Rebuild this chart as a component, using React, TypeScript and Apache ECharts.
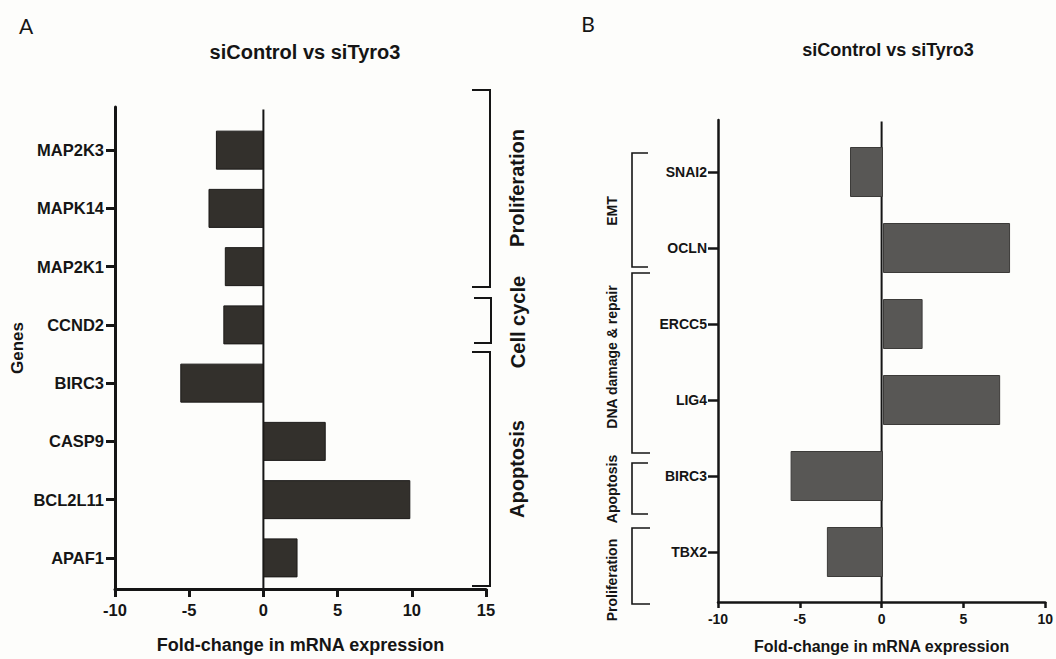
import React, { useEffect, useRef } from "react";
import * as echarts from "echarts";

// ---- Data ----
const leftGenes = ["MAP2K3", "MAPK14", "MAP2K1", "CCND2", "BIRC3", "CASP9", "BCL2L11", "APAF1"];
const leftValues = [-3.2, -3.7, -2.6, -2.7, -5.6, 4.2, 9.9, 2.3];
const leftXTicks = { min: -10, max: 15, interval: 5 };

const rightGenes = ["SNAI2", "OCLN", "ERCC5", "LIG4", "BIRC3", "TBX2"];
const rightValues = [-2.0, 7.7, 2.4, 7.1, -5.6, -3.4];
const rightXTicks = { min: -10, max: 10, interval: 5 };

const chartTitle = "siControl vs siTyro3";
const xAxisName = "Fold-change in mRNA expression";
const yAxisName = "Genes";

const leftGroups = ["Proliferation", "Cell cycle", "Apoptosis"];
const rightGroups = ["EMT", "DNA damage & repair", "Apoptosis", "Proliferation"];

const FONT = "'Liberation Sans', Arial, Helvetica, sans-serif";
const INK = "#151515";

export default function App() {
  const ref = useRef<HTMLDivElement>(null);

  useEffect(() => {
    if (!ref.current) return;
    const chart = echarts.init(ref.current, undefined, { renderer: "svg" });

    const bold = (size: number) => ({
      fontFamily: FONT,
      fontWeight: "bold" as const,
      fontSize: size,
      color: INK,
    });

    const bracket = (pts: number[][], w = 2) => ({
      type: "polyline",
      shape: { points: pts },
      style: { stroke: INK, lineWidth: w, fill: "none" },
      silent: true,
    });

    const vText = (text: string, x: number, y: number, size: number) => ({
      type: "text",
      x,
      y,
      rotation: Math.PI / 2,
      style: {
        text,
        font: `bold ${size}px ${FONT}`,
        fill: INK,
        align: "center",
        verticalAlign: "middle",
      },
      silent: true,
    });

    const option: any = {
      animation: false,
      backgroundColor: "#fdfdfb",
      title: [
        {
          text: chartTitle,
          left: 300,
          top: 37,
          textAlign: "center",
          textStyle: bold(20),
        },
        {
          text: chartTitle,
          left: 883,
          top: 36,
          textAlign: "center",
          textStyle: bold(18),
        },
      ],
      grid: [
        { left: 115, width: 371, top: 121, height: 466, containLabel: false },
        { left: 115, width: 371, top: 107, height: 489, containLabel: false },
        { left: 718, width: 330, top: 134, height: 456, containLabel: false },
        { left: 718, width: 330, top: 120, height: 483, containLabel: false },
      ],
      xAxis: [
        { gridIndex: 0, type: "value", min: leftXTicks.min, max: leftXTicks.max, show: false },
        {
          gridIndex: 1,
          type: "value",
          min: leftXTicks.min,
          max: leftXTicks.max,
          interval: leftXTicks.interval,
          axisLine: { show: true, onZero: false, lineStyle: { color: INK, width: 3 } },
          axisTick: { show: true, length: 8, lineStyle: { color: INK, width: 3 } },
          axisLabel: { ...bold(16.5), margin: 12, showMinLabel: true, showMaxLabel: true },
          splitLine: { show: false },
          name: xAxisName,
          nameLocation: "middle",
          nameGap: 47,
          nameTextStyle: bold(18),
        },
        { gridIndex: 2, type: "value", min: rightXTicks.min, max: rightXTicks.max, show: false },
        {
          gridIndex: 3,
          type: "value",
          min: rightXTicks.min,
          max: rightXTicks.max,
          interval: rightXTicks.interval,
          axisLine: { show: true, onZero: false, lineStyle: { color: INK, width: 2.5 } },
          axisTick: { show: true, length: 6, lineStyle: { color: INK, width: 2.5 } },
          axisLabel: { ...bold(14), margin: 10, showMinLabel: true, showMaxLabel: true },
          splitLine: { show: false },
          name: xAxisName,
          nameLocation: "middle",
          nameGap: 36,
          nameTextStyle: bold(16),
        },
      ],
      yAxis: [
        {
          gridIndex: 0,
          type: "category",
          data: leftGenes,
          inverse: true,
          axisLine: { show: false, onZero: false },
          axisTick: { show: true, alignWithLabel: true, length: 9, lineStyle: { color: INK, width: 3 } },
          axisLabel: { ...bold(16.5), margin: 11 },
          splitLine: { show: false },
        },
        {
          gridIndex: 1,
          type: "value",
          min: 0,
          max: 1,
          axisLine: { show: true, onZero: false, lineStyle: { color: INK, width: 3 } },
          axisTick: { show: false },
          axisLabel: { show: false },
          splitLine: { show: false },
          name: yAxisName,
          nameLocation: "middle",
          nameGap: 89,
          nameTextStyle: bold(17),
        },
        {
          gridIndex: 2,
          type: "category",
          data: rightGenes,
          inverse: true,
          axisLine: { show: false, onZero: false },
          axisTick: { show: true, alignWithLabel: true, length: 10, lineStyle: { color: INK, width: 2.5 } },
          axisLabel: { ...bold(14), margin: 11 },
          splitLine: { show: false },
        },
        {
          gridIndex: 3,
          type: "value",
          min: 0,
          max: 1,
          axisLine: { show: true, onZero: false, lineStyle: { color: INK, width: 2.5 } },
          axisTick: { show: false },
          axisLabel: { show: false },
          splitLine: { show: false },
        },
      ],
      series: [
        {
          type: "line",
          xAxisIndex: 1,
          yAxisIndex: 1,
          data: [
            [0, 0],
            [0, 0.995],
          ],
          symbol: "none",
          lineStyle: { color: INK, width: 2 },
          silent: true,
          z: 1,
        },
        {
          type: "bar",
          xAxisIndex: 0,
          yAxisIndex: 0,
          data: leftValues,
          barWidth: 39,
          itemStyle: { color: "#33302c", borderColor: "#1c1a18", borderWidth: 1 },
          z: 2,
        },
        {
          type: "line",
          xAxisIndex: 3,
          yAxisIndex: 3,
          data: [
            [0, 0],
            [0, 0.997],
          ],
          symbol: "none",
          lineStyle: { color: INK, width: 2 },
          silent: true,
          z: 1,
        },
        {
          type: "bar",
          xAxisIndex: 2,
          yAxisIndex: 2,
          data: rightValues,
          barWidth: 50,
          itemStyle: { color: "#585755", borderColor: "#3c3b39", borderWidth: 1 },
          z: 2,
        },
      ],
      graphic: [
        {
          type: "text",
          x: 26,
          y: 25,
          style: { text: "A", font: `21px Lato, 'Open Sans', sans-serif`, fill: INK, align: "center", verticalAlign: "middle" },
          silent: true,
        },
        {
          type: "text",
          x: 588,
          y: 23,
          style: { text: "B", font: `21px Lato, 'Open Sans', sans-serif`, fill: INK, align: "center", verticalAlign: "middle" },
          silent: true,
        },
        // left panel brackets
        bracket([[472, 90], [490, 90], [490, 287], [472, 287]]),
        bracket([[474, 298], [491, 298], [491, 343], [474, 343]]),
        bracket([[472, 352], [490, 352], [490, 586], [472, 586]]),
        vText(leftGroups[0], 517, 188, 20),
        vText(leftGroups[1], 518, 322, 20),
        vText(leftGroups[2], 517, 469, 20),
        // right panel brackets
        bracket([[648, 153], [632, 153], [632, 267], [648, 267]], 1.6),
        bracket([[650, 273], [632, 273], [632, 453], [650, 453]], 1.6),
        bracket([[648, 463], [632, 463], [632, 514], [648, 514]], 1.6),
        bracket([[650, 528], [632, 528], [632, 604], [650, 604]], 1.6),
        vText(rightGroups[0], 612, 211, 14),
        vText(rightGroups[1], 612, 357, 14),
        vText(rightGroups[2], 612, 489, 14),
        vText(rightGroups[3], 612, 580, 14),
      ],
    };

    chart.setOption(option);
    return () => chart.dispose();
  }, []);

  return (
    <div
      ref={ref}
      style={{ position: "absolute", left: 0, top: 0, width: 1056, height: 659 }}
    />
  );
}
